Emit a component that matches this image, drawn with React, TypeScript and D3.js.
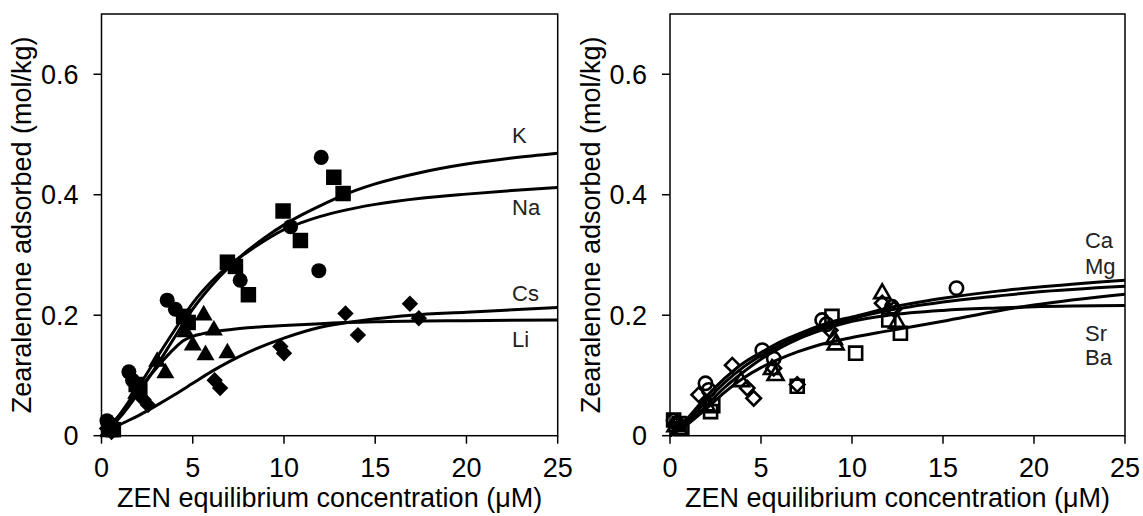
import React from 'react';
import * as d3 from 'd3';

type Pt = [number, number];

// ---------- shared axis content ----------
const xTicks = [0, 5, 10, 15, 20, 25];
const yTicks = [0, 0.2, 0.4, 0.6];
const yTickLabels = ['0', '0.2', '0.4', '0.6'];
const xDomain: Pt = [0, 25];
const yDomain: Pt = [0, 0.7];
const xTitle = 'ZEN equilibrium concentration (μM)';
const yTitle = 'Zearalenone adsorbed (mol/kg)';

// ---------- left panel: monovalent cations (filled markers) ----------
const circlesFilled: Pt[] = [
  [0.3, 0.025], [0.45, 0.02], [1.5, 0.106], [1.7, 0.092], [3.6, 0.225], [4.05, 0.21],
  [7.6, 0.258], [10.36, 0.347], [11.91, 0.274], [12.04, 0.462],
];
const squaresFilled: Pt[] = [
  [0.5, 0.015], [0.65, 0.01], [1.9, 0.085], [2.1, 0.075], [4.5, 0.198], [4.75, 0.188],
  [6.9, 0.288], [7.34, 0.281], [8.05, 0.234], [9.95, 0.373], [10.9, 0.324], [12.73, 0.429], [13.24, 0.402],
];
const trianglesFilled: Pt[] = [
  [0.4, 0.006], [0.6, 0.008], [1.9, 0.07], [3.05, 0.123], [3.5, 0.104], [4.6, 0.172],
  [5.0, 0.15], [5.6, 0.2], [5.7, 0.134], [6.16, 0.175], [6.9, 0.137],
];
const diamondsFilled: Pt[] = [
  [0.3, 0.012], [0.55, 0.006], [2.3, 0.06], [2.55, 0.051], [6.2, 0.092], [6.5, 0.079],
  [9.8, 0.148], [10.0, 0.137], [13.37, 0.203], [14.05, 0.167], [16.9, 0.219], [17.39, 0.195],
];

// fitted curves
const curveKx = [0, 1, 2, 3, 4, 5, 6, 7, 8, 9, 10, 11, 12, 13, 14, 15, 17.5, 20, 22.5, 25];
const curveKy = [0, 0.03, 0.07, 0.115, 0.163, 0.21, 0.248, 0.28, 0.307, 0.33, 0.35, 0.367, 0.382, 0.396, 0.408, 0.418, 0.437, 0.451, 0.461, 0.469];
const curveNax = [0, 1, 2, 3, 4, 5, 6, 7, 8, 9, 10, 11, 12, 13, 15, 17.5, 20, 22.5, 25];
const curveNay = [0, 0.035, 0.08, 0.128, 0.175, 0.22, 0.255, 0.283, 0.305, 0.325, 0.342, 0.354, 0.364, 0.372, 0.384, 0.394, 0.401, 0.407, 0.412];
const curveCsx = [0, 1, 2, 3, 4, 5, 6, 7, 8, 10, 12, 14, 15, 17, 20, 25];
const curveCsy = [0, 0.018, 0.033, 0.05, 0.068, 0.087, 0.106, 0.123, 0.138, 0.162, 0.18, 0.19, 0.194, 0.2, 0.205, 0.213];
const curveLix = [0, 1, 2, 3, 4, 4.5, 5, 5.5, 6, 7, 8, 10, 12, 15, 20, 25];
const curveLiy = [0, 0.035, 0.075, 0.112, 0.145, 0.158, 0.165, 0.169, 0.172, 0.176, 0.179, 0.183, 0.186, 0.189, 0.191, 0.192];

const leftLabels = ['K', 'Na', 'Cs', 'Li'];
const leftLabelY = [0.486, 0.366, 0.224, 0.147];

// ---------- right panel: divalent cations (open markers) ----------
const circlesOpen: Pt[] = [
  [0.2, 0.025], [0.4, 0.02], [1.95, 0.087], [2.13, 0.076], [5.07, 0.142], [5.7, 0.128],
  [8.36, 0.192], [8.6, 0.185], [12.2, 0.214], [15.74, 0.245],
];
const squaresOpen: Pt[] = [
  [0.2, 0.026], [0.5, 0.02], [0.65, 0.012], [2.23, 0.04], [2.35, 0.05], [6.99, 0.082],
  [8.9, 0.198], [10.2, 0.137], [12.02, 0.192], [12.66, 0.17],
];
const trianglesOpen: Pt[] = [
  [0.3, 0.015], [0.5, 0.01], [2.0, 0.05], [3.9, 0.09], [5.6, 0.11], [5.8, 0.1],
  [9.0, 0.16], [9.1, 0.151], [11.66, 0.236], [12.48, 0.187],
];
const diamondsOpen: Pt[] = [
  [0.3, 0.02], [1.58, 0.068], [3.42, 0.117], [4.24, 0.079], [4.6, 0.062], [5.7, 0.112],
  [6.99, 0.085], [8.8, 0.175], [11.66, 0.22], [12.3, 0.21],
];

const curveCax = [0, 1, 2, 3, 4, 5, 6, 7, 8, 9, 10, 12, 15, 18, 20, 25];
const curveCay = [0, 0.03, 0.065, 0.095, 0.12, 0.138, 0.155, 0.168, 0.18, 0.19, 0.197, 0.212, 0.228, 0.24, 0.246, 0.258];
const curveMgx = [0, 1, 2, 3, 4, 5, 6, 7, 8, 10, 12, 15, 18, 20, 25];
const curveMgy = [0, 0.025, 0.058, 0.088, 0.113, 0.133, 0.15, 0.164, 0.176, 0.194, 0.208, 0.222, 0.232, 0.238, 0.248];
const curveSrx = [0, 1, 2, 3, 4, 5, 6, 7, 8, 10, 12, 15, 18, 20, 25];
const curveSry = [0, 0.02, 0.045, 0.072, 0.095, 0.113, 0.127, 0.139, 0.149, 0.163, 0.174, 0.19, 0.207, 0.217, 0.235];
const curveBax = [0, 1, 2, 3, 4, 5, 6, 7, 8, 10, 12, 15, 18, 20, 25];
const curveBay = [0, 0.02, 0.05, 0.08, 0.105, 0.127, 0.145, 0.16, 0.172, 0.19, 0.2, 0.208, 0.212, 0.214, 0.216];

const rightLabels = ['Ca', 'Mg', 'Sr', 'Ba'];
const rightLabelY = [0.311, 0.268, 0.157, 0.117];

// ---------- rendering ----------
const FONT = '"Liberation Sans", Arial, Helvetica, sans-serif';
const TOP = 14;
const BOTTOM = 435.7;

type Shape = 'circle' | 'square' | 'triangle' | 'diamond';
interface Series { pts: Pt[]; shape: Shape }
interface CurveDef { xs: number[]; ys: number[] }

function symbolPath(shape: Shape, filled: boolean): { d: string; rot: number } {
  const s = d3.symbol();
  if (shape === 'circle') return { d: s.type(d3.symbolCircle).size(filled ? 177 : 140)()!, rot: 0 };
  if (shape === 'square') return { d: s.type(d3.symbolSquare).size(filled ? 240 : 170)()!, rot: 0 };
  if (shape === 'triangle') return { d: s.type(d3.symbolTriangle).size(filled ? 140 : 110)()!, rot: 0 };
  return { d: s.type(d3.symbolSquare).size(filled ? 135 : 105)()!, rot: 45 };
}

function Panel(props: {
  x0: number; x1: number; series: Series[]; filled: boolean; curves: CurveDef[];
  labels: string[]; labelY: number[]; labelX: number;
}) {
  const { x0, x1, series, filled, curves, labels, labelY, labelX } = props;
  const x = d3.scaleLinear().domain(xDomain).range([x0, x1]);
  const y = d3.scaleLinear().domain(yDomain).range([BOTTOM, TOP]);
  const line = d3.line<Pt>().x(d => x(d[0])).y(d => y(d[1])).curve(d3.curveMonotoneX);
  const cx = (x0 + x1) / 2;
  return (
    <g fontFamily={FONT} fill="#000">
      {curves.map((c, i) => (
        <path key={'c' + i} d={line(c.xs.map((v, j) => [v, c.ys[j]] as Pt))!} fill="none" stroke="#000" strokeWidth={3} />
      ))}
      {series.map((s, i) => {
        const sym = symbolPath(s.shape, filled);
        return (
          <g key={'s' + i}>
            {s.pts.map((p, j) => (
              <path key={j} d={sym.d}
                transform={`translate(${x(p[0])},${y(p[1])}) rotate(${sym.rot})`}
                fill={filled ? '#000' : 'none'} stroke="#000" strokeWidth={filled ? 0 : 2.6} />
            ))}
          </g>
        );
      })}
      <rect x={x0} y={TOP} width={x1 - x0} height={BOTTOM - TOP} fill="none" stroke="#000" strokeWidth={1.5} />
      {yTicks.map((t, i) => (
        <g key={'y' + i}>
          <line x1={x0 - 8} x2={x0} y1={y(t)} y2={y(t)} stroke="#000" strokeWidth={1.5} />
          <text x={x0 - 23} y={y(t)} dy="0.36em" textAnchor="end" fontSize={27}>{yTickLabels[i]}</text>
        </g>
      ))}
      {xTicks.map((t, i) => (
        <g key={'x' + i}>
          <line x1={x(t)} x2={x(t)} y1={BOTTOM} y2={BOTTOM + 8} stroke="#000" strokeWidth={1.5} />
          <text x={x(t)} y={476.7} textAnchor="middle" fontSize={27}>{String(t)}</text>
        </g>
      ))}
      <text x={cx} y={506.7} textAnchor="middle" fontSize={27}>{xTitle}</text>
      <text transform={`translate(${x0 - 70.5},${(TOP + BOTTOM) / 2 + 0}) rotate(-90)`} textAnchor="middle" fontSize={27}>{yTitle}</text>
      {labels.map((l, i) => (
        <text key={'l' + i} x={x(labelX)} y={y(labelY[i])} fontSize={22} fill="#222">{l}</text>
      ))}
    </g>
  );
}

export default function App() {
  return (
    <svg width={1143} height={516} style={{ position: 'absolute', left: 0, top: 0, background: '#fff' }}>
      <rect width={1143} height={516} fill="#fff" />
      <Panel x0={101.5} x1={557.7} filled={true}
        series={[
          { pts: circlesFilled, shape: 'circle' },
          { pts: squaresFilled, shape: 'square' },
          { pts: trianglesFilled, shape: 'triangle' },
          { pts: diamondsFilled, shape: 'diamond' },
        ]}
        curves={[
          { xs: curveKx, ys: curveKy }, { xs: curveNax, ys: curveNay },
          { xs: curveCsx, ys: curveCsy }, { xs: curveLix, ys: curveLiy },
        ]}
        labels={leftLabels} labelY={leftLabelY} labelX={22.5} />
      <Panel x0={670} x1={1125} filled={false}
        series={[
          { pts: circlesOpen, shape: 'circle' },
          { pts: squaresOpen, shape: 'square' },
          { pts: trianglesOpen, shape: 'triangle' },
          { pts: diamondsOpen, shape: 'diamond' },
        ]}
        curves={[
          { xs: curveCax, ys: curveCay }, { xs: curveMgx, ys: curveMgy },
          { xs: curveSrx, ys: curveSry }, { xs: curveBax, ys: curveBay },
        ]}
        labels={rightLabels} labelY={rightLabelY} labelX={22.8} />
    </svg>
  );
}
